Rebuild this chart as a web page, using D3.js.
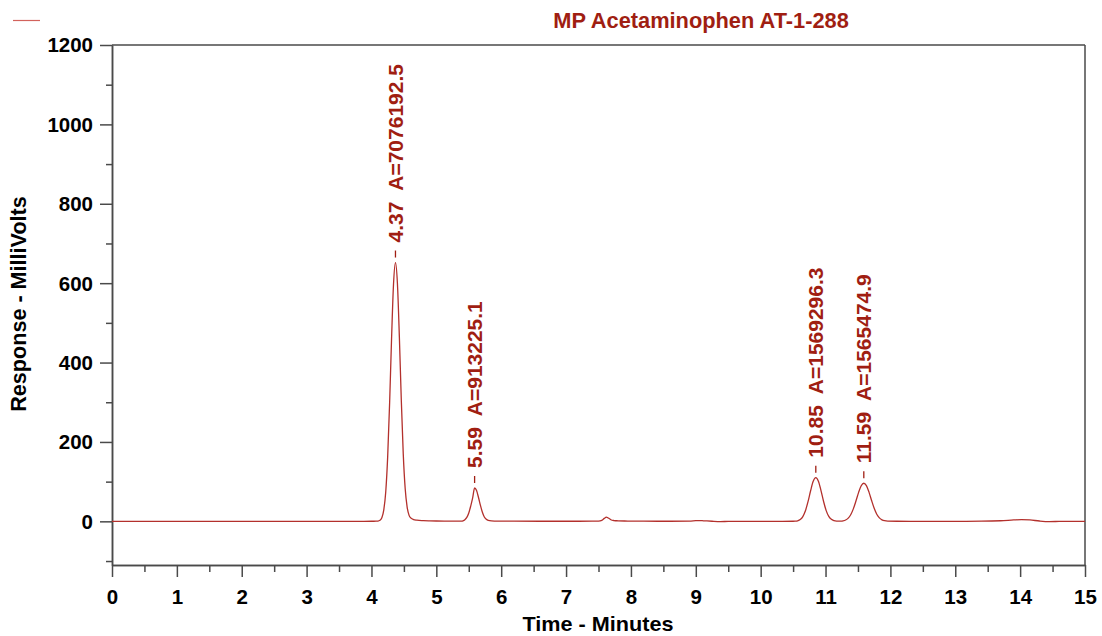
<!DOCTYPE html>
<html>
<head>
<meta charset="utf-8">
<script src="https://cdn.jsdelivr.net/npm/d3@7"></script>
<style>
  html, body { margin: 0; padding: 0; background: #fff; }
  svg { display: block; font-family: "Liberation Sans", Arial, sans-serif; }
  .axis text { font-size: 20.5px; font-weight: bold; fill: #000; }
  .axis path, .axis line { stroke: #4a4a4a; stroke-width: 1.5; }
</style>
</head>
<body>
<svg id="chart" width="1102" height="636"></svg>
<script>
// Detector trace: retention time (minutes) and response (mV)
const timeMin = [
  0, 1.0, 2.0, 3.0, 3.8, 4.0, 4.07, 4.10, 4.13, 4.16, 4.19, 4.22, 4.25, 4.28, 4.31, 4.34,
  4.37, 4.40, 4.43, 4.46, 4.49, 4.52, 4.55, 4.58, 4.61, 4.65, 4.70, 4.80, 4.90, 5.00, 5.20,
  5.35, 5.38, 5.41, 5.44, 5.47, 5.50, 5.53, 5.56, 5.59, 5.62, 5.65, 5.68, 5.71, 5.74, 5.77,
  5.80, 5.85, 5.95, 6.2, 6.6, 7.0, 7.4, 7.50, 7.55, 7.59, 7.62, 7.65, 7.69, 7.74, 7.80, 7.9,
  8.2, 8.6, 8.9, 9.0, 9.05, 9.12, 9.25, 9.38, 9.5, 9.8, 10.2, 10.5, 10.53, 10.57, 10.61,
  10.65, 10.69, 10.73, 10.77, 10.81, 10.85, 10.89, 10.93, 10.97, 11.01, 11.05, 11.09, 11.13,
  11.17, 11.21, 11.24, 11.27, 11.31, 11.35, 11.39, 11.43, 11.47, 11.51, 11.55, 11.59, 11.63,
  11.67, 11.71, 11.75, 11.79, 11.83, 11.87, 11.91, 11.96, 12.1, 12.5, 13.0, 13.4, 13.7, 13.9,
  14.02, 14.15, 14.3, 14.45, 14.6, 14.8, 15.0
];
const responseMV = [
  0, 0, 0, 0, 0, 0.2, 0.3, 0.6, 2.5, 9, 29, 74, 163, 299, 461, 598,
  652, 600, 465, 305, 170, 82, 36, 15, 8, 4.5, 3, 1.8, 1.2, 0.8, 0.4,
  0.3, 0.6, 1.4, 4, 9.8, 21, 38.5, 59, 84, 77.5, 60, 40, 23, 11, 5,
  2.2, 1, 0.5, 0.3, 0.2, 0.2, 0.3, 0.6, 2.5, 7.5, 10.5, 8.5, 4, 2, 1.3, 0.8,
  0.4, 0.2, 0.4, 1.6, 2, 1.4, 0.2, -0.6, -0.2, 0, 0, 0.2, 0.4, 1.4, 4.5,
  12, 26.6, 49.5, 77, 100.7, 110, 101, 77.5, 50, 27, 12.5, 5, 1.8,
  0.6, 0.4, 0.5, 1.2, 3.3, 8.1, 17.3, 32, 51.8, 73, 89.7, 96, 90,
  73.5, 52.5, 33, 18, 8.8, 3.8, 1.5, 0.6, 0.2, 0, 0, 0.3, 1.5, 3.5,
  4.5, 3.5, 0.8, -0.6, -0.3, 0, 0
];

// Integrated peaks: retention time and area
const peakTimes = [4.37, 5.59, 10.85, 11.59];
const peakAreas = ["7076192.5", "913225.1", "1569296.3", "1565474.9"];

// Axis ticks
const xMajorTicks = [0, 1, 2, 3, 4, 5, 6, 7, 8, 9, 10, 11, 12, 13, 14, 15];
const xMinorTicks = [0.5, 1.5, 2.5, 3.5, 4.5, 5.5, 6.5, 7.5, 8.5, 9.5, 10.5, 11.5, 12.5, 13.5, 14.5];
const yMajorTicks = [0, 200, 400, 600, 800, 1000, 1200];
const yMinorTicks = [-100, 100, 300, 500, 700, 900, 1100];

const titleText = "MP Acetaminophen AT-1-288";
const xLabel = "Time - Minutes";
const yLabel = "Response - MilliVolts";

const traceColor = "#b3302c";
const labelColor = "#a01e12";

const svg = d3.select("#chart");
const m = { left: 112, right: 1085, top: 45, bottom: 565 };

const x = d3.scaleLinear().domain([0, 15]).range([m.left, m.right]);
const y = d3.scaleLinear().domain([-110, 1200]).range([m.bottom, m.top]);

// frame: top and right edges
svg.append("line").attr("x1", m.left).attr("x2", m.right).attr("y1", m.top).attr("y2", m.top)
  .attr("stroke", "#4a4a4a").attr("stroke-width", 1.5);
svg.append("line").attr("x1", m.right).attr("x2", m.right).attr("y1", m.top).attr("y2", m.bottom)
  .attr("stroke", "#4a4a4a").attr("stroke-width", 1.5);

// y axis
svg.append("g").attr("class", "axis").attr("transform", `translate(${m.left},0)`)
  .call(d3.axisLeft(y).tickValues(yMinorTicks).tickSize(6).tickSizeOuter(0).tickFormat(""));
svg.append("g").attr("class", "axis").attr("transform", `translate(${m.left},0)`)
  .call(d3.axisLeft(y).tickValues(yMajorTicks).tickSize(12).tickSizeOuter(0).tickPadding(7).tickFormat(d3.format("d")))
  .call(g => g.selectAll("text").attr("dy", "0.34em"));

// x axis
svg.append("g").attr("class", "axis").attr("transform", `translate(0,${m.bottom})`)
  .call(d3.axisBottom(x).tickValues(xMinorTicks).tickSize(7).tickSizeOuter(0).tickFormat(""));
svg.append("g").attr("class", "axis").attr("transform", `translate(0,${m.bottom})`)
  .call(d3.axisBottom(x).tickValues(xMajorTicks).tickSize(12).tickSizeOuter(0).tickPadding(12).tickFormat(d3.format("d")));

// trace
const pts = timeMin.map((t, i) => [t, responseMV[i]]);
const line = d3.line().x(d => x(d[0])).y(d => y(d[1])).curve(d3.curveMonotoneX);
svg.append("path").datum(pts).attr("d", line)
  .attr("fill", "none").attr("stroke", traceColor).attr("stroke-width", 1.3);

// peak annotations
peakTimes.forEach((t, i) => {
  const idx = d3.minIndex(timeMin, v => Math.abs(v - t));
  const apexY = y(responseMV[idx]);
  const px = x(t);
  svg.append("line").attr("x1", px).attr("x2", px)
    .attr("y1", apexY - 5).attr("y2", apexY - 12)
    .attr("stroke", labelColor).attr("stroke-width", 1.3);
  svg.append("text")
    .attr("transform", `translate(${px},${apexY - 20}) rotate(-90)`)
    .attr("dy", "0.36em")
    .attr("fill", labelColor)
    .style("font-size", "21px").style("font-weight", "bold").style("white-space", "pre")
    .text(`${t.toFixed(2)}  A=${peakAreas[i]}`);
});

// legend swatch and title
svg.append("line").attr("x1", 13).attr("x2", 40).attr("y1", 20.5).attr("y2", 20.5)
  .attr("stroke", "#d2625c").attr("stroke-width", 1.2);
svg.append("text").attr("x", 701).attr("y", 28).attr("text-anchor", "middle")
  .attr("fill", labelColor).style("font-size", "21.8px").style("font-weight", "bold")
  .text(titleText);

// axis titles
svg.append("text").attr("x", 598).attr("y", 631).attr("text-anchor", "middle")
  .attr("fill", "#000").style("font-size", "21px").style("font-weight", "bold")
  .attr("textLength", 151).attr("lengthAdjust", "spacingAndGlyphs")
  .text(xLabel);
svg.append("text").attr("transform", "translate(26,304) rotate(-90)").attr("text-anchor", "middle")
  .attr("fill", "#000").style("font-size", "21.6px").style("font-weight", "bold")
  .text(yLabel);
</script>
</body>
</html>
